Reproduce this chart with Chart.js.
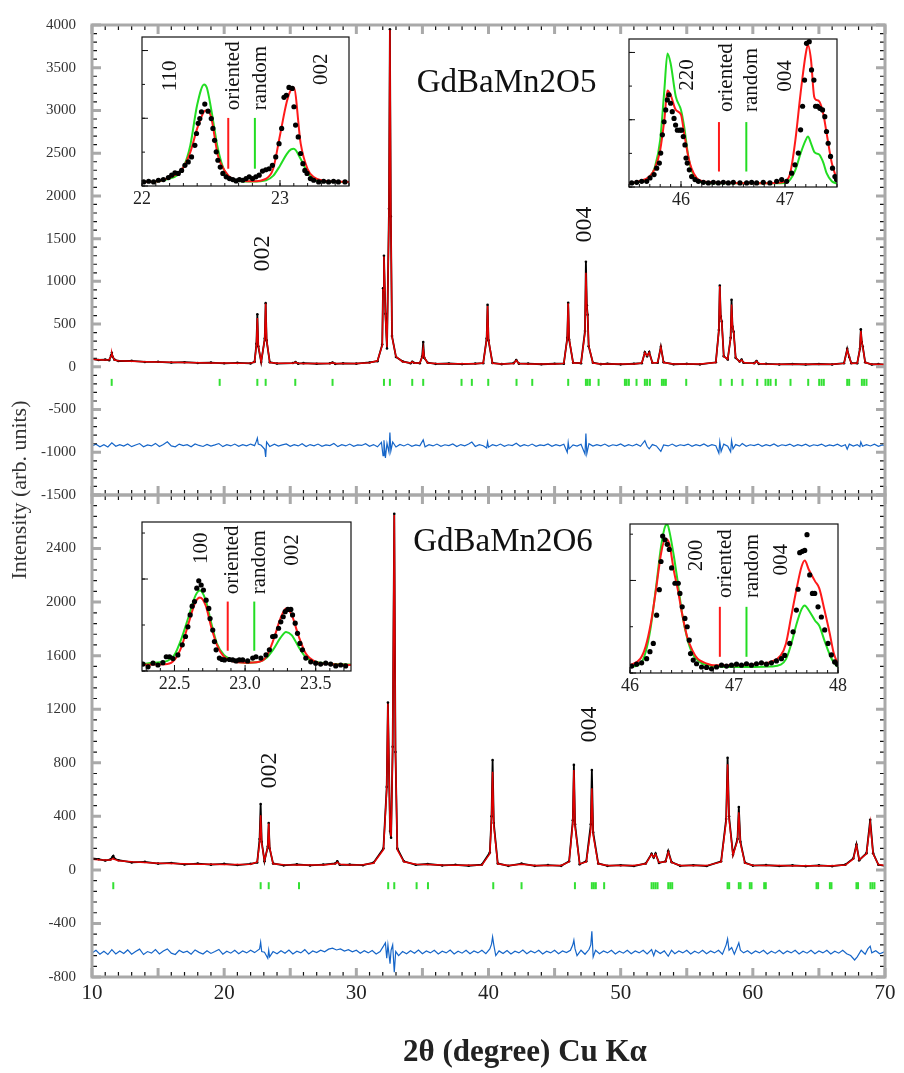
<!DOCTYPE html>
<html>
<head>
<meta charset="utf-8">
<script src="https://cdn.jsdelivr.net/npm/chart.js@4.4.0/dist/chart.umd.min.js"></script>
<style>
  html, body { margin: 0; padding: 0; background: #fff; }
  #wrap { position: relative; width: 904px; height: 1073px; overflow: hidden; }
  canvas { position: absolute; }
</style>
</head>
<body>
<div id="wrap">
  <canvas id="mainTop" width="904" height="1073" style="left:0;top:0"></canvas>
  <canvas id="mainBottom" width="904" height="1073" style="left:0;top:0"></canvas>
  <canvas id="insetTL" width="247" height="189" style="left:122px;top:27px"></canvas>
  <canvas id="insetTR" width="248" height="188" style="left:609px;top:29px"></canvas>
  <canvas id="insetBL" width="249" height="189" style="left:122px;top:512px"></canvas>
  <canvas id="insetBR" width="248" height="189" style="left:610px;top:514px"></canvas>
</div>
<script>
const SERIF = '"Liberation Serif", "DejaVu Serif", serif';
Chart.defaults.font.family = SERIF;

// ---- GdBaMn2O5 (top panel) ----
const o5Tth = [
  10.0, 10.5, 11.0, 11.3, 11.45, 11.5, 11.55, 11.7, 12.0, 13.0,
  14.0, 15.0, 16.0, 17.0, 18.0, 19.0, 20.0, 21.0, 22.0, 22.3,
  22.44, 22.51, 22.58, 22.8, 23.07, 23.14, 23.21, 23.45, 24.0, 25.2,
  25.4, 25.6, 26.0, 27.0, 28.0, 28.2, 28.4, 29.0, 30.0, 31.0,
  31.6, 31.96, 32.02, 32.09, 32.2, 32.32, 32.47, 32.54, 32.61, 32.7,
  33.0, 33.5, 34.1, 34.23, 34.35, 34.8, 34.98, 35.06, 35.14, 35.4,
  36.0, 37.0, 38.0, 39.0, 39.6, 39.86, 39.93, 40.0, 40.3, 41.0,
  41.9, 42.1, 42.3, 43.0, 44.0, 45.0, 45.7, 45.96, 46.03, 46.1,
  46.4, 47.0, 47.3, 47.37, 47.44, 47.5, 47.58, 47.9, 48.5, 49.0,
  50.0, 51.0, 51.6, 51.83, 52.0, 52.16, 52.4, 52.8, 53.04, 53.25,
  54.0, 55.0, 56.0, 57.2, 57.43, 57.5, 57.57, 57.65, 57.8, 58.1,
  58.32, 58.39, 58.46, 58.55, 58.7, 59.0, 59.15, 59.3, 60.1, 60.28,
  60.45, 61.0, 62.0, 63.0, 64.0, 65.0, 66.0, 66.9, 67.14, 67.29,
  67.45, 67.9, 68.1, 68.17, 68.24, 68.32, 68.5, 69.0, 69.5, 70.0
];
const o5Calc = [
  88, 84, 80, 82, 130, 160, 130, 80, 72, 66,
  60, 56, 53, 50, 48, 46, 44, 43, 44, 55,
  250, 570, 250, 60, 320, 740, 320, 50, 42, 41,
  52, 41, 40, 39, 38, 48, 38, 38, 40, 48,
  70, 250, 900, 1290, 600, 230, 1800, 3940, 1800, 350,
  120, 60, 45, 58, 45, 45, 110, 215, 110, 45,
  38, 36, 35, 35, 45, 320, 710, 320, 42, 34,
  40, 75, 40, 34, 33, 33, 40, 330, 745, 330,
  45, 45, 400, 1100, 700, 600, 250, 45, 34, 33,
  32, 33, 45, 165, 130, 165, 45, 50, 230, 50,
  33, 32, 32, 50, 420, 945, 600, 520, 120, 90,
  330, 730, 480, 400, 110, 60, 80, 50, 40, 65,
  38, 32, 31, 30, 30, 30, 30, 40, 200, 120,
  40, 45, 200, 420, 300, 230, 50, 30, 29, 28
];
const o5Obs = [
  92, 80, 84, 78, 135, 165, 120, 84, 68, 70,
  57, 59, 50, 54, 45, 49, 41, 46, 40, 58,
  270, 615, 240, 56, 330, 745, 310, 54, 38, 44,
  55, 37, 43, 36, 41, 50, 35, 41, 37, 51,
  66, 260, 920, 1300, 620, 215, 1850, 3950, 1760, 360,
  115, 64, 42, 60, 48, 42, 120, 290, 105, 48,
  35, 39, 32, 38, 42, 330, 725, 310, 45, 31,
  43, 78, 37, 37, 30, 36, 37, 340, 750, 320,
  48, 42, 420, 1230, 720, 610, 240, 48, 31, 36,
  29, 36, 42, 170, 125, 172, 48, 47, 235, 53,
  30, 35, 29, 53, 430, 950, 590, 530, 125, 87,
  340, 785, 470, 410, 105, 63, 84, 47, 43, 68,
  35, 35, 28, 33, 27, 33, 28, 43, 210, 115,
  43, 42, 210, 440, 290, 235, 53, 27, 32, 26
];
const o5Diff = [
  [10.0,-925],[10.3,-905],[10.6,-935],[10.9,-912],[11.2,-938],[11.5,-890],[11.8,-930],[12.1,-910],[12.4,-928],[12.7,-902],
  [13.0,-934],[13.3,-915],[13.6,-898],[13.9,-936],[14.2,-914],[14.5,-926],[14.8,-896],[15.1,-932],[15.4,-910],[15.7,-878],
  [16.0,-926],[16.3,-936],[16.6,-904],[16.9,-922],[17.2,-912],[17.5,-936],[17.8,-902],[18.1,-920],[18.4,-932],[18.7,-908],
  [19.0,-928],[19.3,-914],[19.6,-898],[19.9,-934],[20.2,-912],[20.5,-926],[20.8,-904],[21.1,-930],[21.4,-910],[21.7,-924],
  [22.0,-904],[22.3,-922],[22.44,-870],[22.51,-835],[22.58,-905],[22.8,-918],[23.07,-965],[23.14,-1055],[23.21,-880],[23.45,-932],
  [23.8,-906],[24.1,-928],[24.4,-914],[24.7,-902],[25.0,-930],[25.3,-912],[25.6,-926],[25.9,-900],[26.2,-932],[26.5,-910],
  [26.8,-924],[27.1,-904],[27.4,-930],[27.7,-914],[28.0,-922],[28.3,-898],[28.6,-934],[28.9,-912],[29.2,-926],[29.5,-904],
  [29.8,-930],[30.1,-914],[30.4,-920],[30.7,-900],[31.0,-930],[31.3,-910],[31.6,-936],[31.9,-885],[32.02,-1040],[32.09,-860],
  [32.2,-1065],[32.32,-895],[32.47,-1000],[32.54,-770],[32.61,-985],[32.75,-880],[33.0,-938],[33.3,-908],[33.6,-926],[33.9,-904],
  [34.2,-930],[34.5,-914],[34.8,-924],[35.06,-855],[35.2,-936],[35.5,-912],[35.8,-926],[36.1,-904],[36.4,-930],[36.7,-912],
  [37.0,-922],[37.3,-902],[37.6,-932],[37.9,-910],[38.2,-924],[38.5,-904],[38.74,-880],[39.0,-932],[39.3,-912],[39.6,-924],
  [39.86,-950],[39.93,-880],[40.0,-940],[40.3,-912],[40.6,-926],[40.9,-904],[41.2,-930],[41.5,-912],[41.8,-922],[42.1,-895],
  [42.4,-930],[42.7,-910],[43.0,-926],[43.3,-904],[43.6,-930],[43.9,-914],[44.2,-922],[44.5,-902],[44.8,-930],[45.1,-912],
  [45.4,-924],[45.7,-906],[45.96,-1000],[46.03,-885],[46.1,-960],[46.4,-914],[46.7,-928],[47.0,-906],[47.3,-1020],[47.37,-780],
  [47.44,-1015],[47.6,-900],[47.9,-928],[48.2,-910],[48.5,-924],[48.8,-904],[49.1,-930],[49.4,-912],[49.7,-922],[50.0,-902],
  [50.3,-930],[50.6,-910],[50.9,-926],[51.2,-906],[51.5,-930],[51.83,-865],[52.0,-930],[52.16,-960],[52.4,-910],[52.7,-926],
  [53.04,-990],[53.25,-915],[53.6,-926],[53.9,-904],[54.2,-930],[54.5,-912],[54.8,-922],[55.1,-904],[55.4,-930],[55.7,-912],
  [56.0,-924],[56.3,-902],[56.6,-930],[56.9,-912],[57.2,-924],[57.43,-1010],[57.5,-880],[57.6,-990],[57.8,-905],[58.1,-930],
  [58.32,-995],[58.39,-865],[58.5,-960],[58.7,-910],[59.0,-928],[59.2,-898],[59.5,-930],[59.8,-912],[60.1,-922],[60.4,-904],
  [60.7,-930],[61.0,-912],[61.3,-924],[61.6,-902],[61.9,-930],[62.2,-912],[62.5,-922],[62.8,-904],[63.1,-930],[63.4,-912],
  [63.7,-924],[64.0,-906],[64.3,-930],[64.6,-912],[64.9,-922],[65.2,-904],[65.5,-930],[65.8,-914],[66.1,-924],[66.4,-906],
  [66.7,-930],[67.0,-912],[67.14,-965],[67.3,-905],[67.6,-928],[67.9,-910],[68.1,-935],[68.17,-880],[68.3,-930],[68.6,-910],
  [68.9,-926],[69.2,-906],[69.5,-930],[69.8,-914],[70.0,-922]
];
const o5Refl = [
  11.49, 19.66, 22.51, 23.14, 25.38, 28.2, 32.09, 32.54, 34.23, 35.06,
  37.96, 38.74, 39.98, 42.12, 43.31, 46.03, 47.37, 47.5, 47.67, 48.33,
  50.32, 50.45, 50.62, 51.2, 51.83, 52.0, 52.21, 53.12, 53.27, 53.42,
  54.96, 57.56, 58.41, 59.22, 60.33, 60.96, 61.16, 61.34, 61.74, 62.85,
  64.19, 65.02, 65.2, 65.37, 67.14, 67.29, 68.25, 68.42, 68.6, 70.0
];
const o5ReflLevel = -182;
const o5YLabels = [-1500, -1000, -500, 0, 500, 1000, 1500, 2000, 2500, 3000, 3500, 4000];

// ---- GdBaMn2O6 (bottom panel) ----
const o6Tth = [
  10.0, 10.5, 11.0, 11.4, 11.55, 11.61, 11.7, 12.0, 13.0, 14.0,
  15.0, 16.0, 17.0, 18.0, 19.0, 20.0, 21.0, 22.0, 22.5, 22.68,
  22.76, 22.84, 23.05, 23.3, 23.37, 23.44, 23.7, 24.5, 25.5, 26.5,
  27.5, 28.4, 28.56, 28.75, 29.5, 30.5, 31.3, 32.05, 32.3, 32.39,
  32.55, 32.63, 32.75, 32.87, 32.96, 33.1, 33.6, 34.5, 35.4, 36.5,
  37.5, 38.5, 39.5, 40.1, 40.23, 40.31, 40.4, 40.7, 41.5, 42.5,
  43.5, 44.5, 45.5, 46.1, 46.38, 46.46, 46.55, 46.9, 47.4, 47.74,
  47.82, 47.92, 48.3, 49.0, 50.0, 51.0, 51.9, 52.34, 52.5, 52.64,
  52.9, 53.4, 53.6, 53.85, 54.5, 55.5, 56.5, 57.6, 57.98, 58.09,
  58.2, 58.5, 58.84, 58.94, 59.06, 59.4, 60.0, 61.0, 62.0, 63.0,
  64.0, 65.0, 66.0, 67.0, 67.6, 67.84, 68.05, 68.6, 68.88, 69.1,
  69.5, 70.0
];
const o6Calc = [
  80, 76, 74, 74, 82, 85, 78, 68, 60, 55,
  50, 47, 45, 43, 42, 41, 40, 42, 60, 200,
  407, 200, 70, 170, 346, 170, 45, 38, 37, 36,
  36, 45, 58, 42, 36, 38, 50, 150, 600, 1240,
  300, 250, 900, 2650, 900, 150, 60, 42, 40, 36,
  35, 34, 36, 120, 380, 733, 330, 45, 33, 42,
  33, 32, 33, 60, 350, 746, 320, 45, 60, 300,
  610, 260, 45, 33, 32, 32, 45, 116, 95, 116,
  55, 60, 133, 55, 33, 32, 32, 60, 360, 788,
  380, 110, 220, 430, 200, 50, 35, 33, 32, 31,
  31, 31, 31, 36, 80, 183, 75, 120, 351, 120,
  40, 32
];
const o6Obs = [
  86, 80, 70, 78, 96, 104, 84, 72, 56, 60,
  47, 52, 41, 47, 39, 45, 36, 45, 55, 230,
  492, 210, 65, 175, 350, 160, 48, 34, 41, 33,
  40, 48, 64, 38, 39, 35, 54, 160, 620, 1250,
  290, 240, 920, 2660, 880, 160, 64, 38, 44, 33,
  38, 31, 40, 130, 400, 820, 350, 48, 30, 47,
  30, 36, 30, 64, 370, 784, 340, 42, 65, 340,
  746, 280, 48, 30, 35, 29, 48, 120, 92, 122,
  52, 64, 140, 58, 30, 35, 29, 64, 380, 837,
  400, 115, 230, 470, 210, 54, 32, 36, 29, 34,
  28, 34, 28, 39, 85, 190, 72, 125, 375, 125,
  38, 30
];
const o6Diff = [
  [10.0,-620],[10.3,-600],[10.6,-630],[10.9,-608],[11.2,-632],[11.5,-596],[11.8,-628],[12.1,-606],[12.4,-624],[12.7,-598],
  [13.0,-630],[13.3,-610],[13.6,-592],[13.9,-632],[14.2,-610],[14.5,-622],[14.8,-595],[15.1,-628],[15.4,-606],[15.7,-590],
  [16.0,-622],[16.3,-632],[16.6,-600],[16.9,-618],[17.2,-608],[17.5,-630],[17.8,-598],[18.1,-616],[18.4,-628],[18.7,-604],
  [19.0,-624],[19.3,-610],[19.6,-594],[19.9,-630],[20.2,-608],[20.5,-622],[20.8,-600],[21.1,-626],[21.4,-606],[21.7,-620],
  [22.0,-600],[22.3,-618],[22.68,-590],[22.76,-540],[22.84,-610],[23.05,-615],[23.3,-660],[23.37,-600],[23.44,-650],[23.7,-610],
  [24.0,-626],[24.3,-604],[24.6,-622],[24.9,-598],[25.2,-628],[25.5,-608],[25.8,-620],[26.1,-596],[26.4,-628],[26.7,-606],
  [27.0,-618],[27.3,-600],[27.6,-612],[27.9,-592],[28.2,-585],[28.5,-598],[28.8,-590],[29.1,-606],[29.4,-596],[29.7,-612],
  [30.0,-600],[30.3,-622],[30.6,-604],[30.9,-620],[31.2,-602],[31.5,-628],[31.8,-610],[32.2,-545],[32.3,-660],[32.39,-560],
  [32.55,-700],[32.63,-600],[32.75,-560],[32.87,-765],[32.98,-610],[33.2,-640],[33.5,-610],[33.8,-626],[34.1,-604],[34.4,-622],
  [34.7,-598],[35.0,-626],[35.3,-606],[35.6,-620],[35.9,-600],[36.2,-628],[36.5,-608],[36.8,-620],[37.1,-598],[37.4,-628],
  [37.7,-608],[38.0,-622],[38.3,-600],[38.6,-626],[38.9,-606],[39.2,-620],[39.5,-600],[39.8,-626],[40.1,-590],[40.23,-555],
  [40.31,-500],[40.4,-560],[40.55,-640],[40.8,-605],[41.1,-624],[41.4,-602],[41.7,-628],[42.0,-608],[42.3,-620],[42.6,-598],
  [42.9,-626],[43.2,-606],[43.5,-620],[43.8,-600],[44.1,-628],[44.4,-608],[44.7,-620],[45.0,-600],[45.3,-626],[45.6,-606],
  [45.9,-618],[46.2,-600],[46.38,-560],[46.46,-525],[46.55,-590],[46.7,-640],[47.0,-600],[47.3,-630],[47.6,-595],[47.74,-560],
  [47.82,-459],[47.92,-650],[48.1,-600],[48.4,-626],[48.7,-606],[49.0,-620],[49.3,-600],[49.6,-628],[49.9,-608],[50.2,-622],
  [50.5,-600],[50.8,-626],[51.1,-606],[51.4,-620],[51.7,-600],[52.0,-628],[52.34,-595],[52.5,-640],[52.64,-600],[53.0,-625],
  [53.3,-605],[53.6,-645],[53.85,-600],[54.1,-626],[54.4,-606],[54.7,-620],[55.0,-600],[55.3,-628],[55.6,-608],[55.9,-622],
  [56.2,-600],[56.5,-626],[56.8,-606],[57.1,-620],[57.4,-600],[57.7,-630],[57.98,-560],[58.09,-515],[58.2,-600],[58.4,-580],
  [58.6,-630],[58.84,-570],[58.94,-545],[59.06,-600],[59.3,-620],[59.6,-604],[59.9,-626],[60.2,-606],[60.5,-620],[60.8,-600],
  [61.1,-628],[61.4,-608],[61.7,-622],[62.0,-600],[62.3,-626],[62.6,-606],[62.9,-620],[63.2,-600],[63.5,-628],[63.8,-608],
  [64.1,-622],[64.4,-600],[64.7,-626],[65.0,-606],[65.3,-620],[65.6,-600],[65.9,-628],[66.2,-608],[66.5,-622],[66.8,-600],
  [67.1,-626],[67.4,-640],[67.7,-673],[67.9,-650],[68.2,-600],[68.5,-630],[68.7,-590],[68.88,-570],[69.0,-620],[69.3,-604],
  [69.6,-626],[70.0,-610]
];
const o6Refl = [
  11.61, 22.76, 23.37, 25.66, 32.41, 32.87, 34.56, 35.42, 40.36, 42.5,
  46.54, 47.82, 47.97, 48.12, 48.75, 52.34, 52.49, 52.64, 52.79, 53.6,
  53.75, 53.9, 58.09, 58.21, 58.94, 59.07, 59.77, 59.9, 60.86, 60.98,
  64.82, 64.94, 65.83, 65.95, 67.84, 67.96, 68.9, 69.05, 69.2
];
const o6ReflLevel = -118;
const o6YLabels = [-800, -400, 0, 400, 800, 1200, 1600, 2000, 2400];
const mainXLabels = [10, 20, 30, 40, 50, 60, 70];

// ---- insets: calc (oriented), random, observed ----
const tlTth  = [22.0, 22.1, 22.2, 22.25, 22.3, 22.35, 22.4, 22.45, 22.47, 22.5, 22.55, 22.6, 22.65, 22.7, 22.8, 22.9, 22.95, 23.0, 23.05, 23.08, 23.1, 23.15, 23.2, 23.25, 23.3, 23.4, 23.5];
const tlCalc = [0.12, 0.13, 0.25, 0.35, 0.55, 1.0, 1.7, 2.2, 2.24, 2.05, 0.9, 0.45, 0.22, 0.16, 0.14, 0.22, 0.5, 1.5, 2.5, 2.85, 2.91, 1.25, 0.5, 0.25, 0.17, 0.13, 0.12];
const tlRand = [0.12, 0.13, 0.22, 0.3, 0.55, 1.2, 2.4, 3.0, 2.9, 2.3, 1.1, 0.42, 0.2, 0.15, 0.13, 0.17, 0.3, 0.6, 0.95, 1.08, 1.1, 0.8, 0.4, 0.2, 0.14, 0.12, 0.12];
const tlObs = [
  [22.012,0.12],[22.048,0.14],[22.084,0.12],[22.119,0.17],[22.155,0.19],[22.191,0.25],[22.215,0.32],[22.239,0.39],[22.263,0.37],[22.287,0.46],
  [22.311,0.61],[22.335,0.71],[22.359,0.86],[22.383,1.2],[22.395,1.55],[22.407,1.85],[22.419,1.99],[22.431,2.19],[22.455,2.42],[22.479,2.21],
  [22.502,1.99],[22.514,1.7],[22.526,1.35],[22.538,1.01],[22.55,0.76],[22.567,0.56],[22.586,0.37],[22.61,0.27],[22.634,0.22],[22.658,0.19],
  [22.682,0.15],[22.706,0.19],[22.73,0.17],[22.754,0.22],[22.777,0.27],[22.801,0.22],[22.825,0.27],[22.849,0.32],[22.873,0.44],[22.897,0.48],
  [22.921,0.51],[22.945,0.61],[22.969,0.86],[22.993,1.25],[23.012,1.7],[23.029,2.62],[23.046,2.68],[23.065,2.91],[23.089,2.88],[23.101,2.34],
  [23.113,1.8],[23.132,1.45],[23.149,0.96],[23.166,0.66],[23.18,0.46],[23.196,0.37],[23.22,0.22],[23.244,0.17],[23.28,0.12],[23.316,0.14],
  [23.352,0.12],[23.388,0.14],[23.423,0.12],[23.471,0.12]
];
const tlMarks = [22.625, 22.818];
const tlXLabels = [22, 23];

const trTth  = [45.5, 45.6, 45.7, 45.75, 45.8, 45.84, 45.87, 45.9, 45.95, 46.0, 46.03, 46.07, 46.1, 46.15, 46.2, 46.3, 46.5, 46.7, 46.9, 47.0, 47.05, 47.1, 47.15, 47.2, 47.22, 47.25, 47.28, 47.3, 47.33, 47.37, 47.4, 47.45, 47.5];
const trCalc = [0.1, 0.17, 0.32, 0.56, 1.1, 2.0, 2.87, 2.74, 2.29, 2.15, 1.6, 0.91, 0.56, 0.27, 0.18, 0.14, 0.12, 0.11, 0.12, 0.17, 0.41, 1.4, 2.79, 3.97, 4.22, 3.78, 2.69, 2.59, 2.54, 2.15, 1.6, 0.71, 0.22];
const trRand = [0.1, 0.15, 0.3, 0.6, 1.4, 2.89, 3.97, 3.68, 2.69, 2.29, 1.8, 0.91, 0.5, 0.22, 0.13, 0.11, 0.11, 0.11, 0.11, 0.12, 0.22, 0.51, 1.0, 1.4, 1.5, 1.3, 1.05, 1.0, 0.96, 0.71, 0.41, 0.17, 0.1];
const trObs = [
  [45.526,0.12],[45.574,0.14],[45.622,0.17],[45.67,0.17],[45.702,0.27],[45.741,0.37],[45.766,0.56],[45.792,0.71],[45.805,1.01],[45.821,1.55],
  [45.837,1.94],[45.853,2.29],[45.869,2.59],[45.884,2.74],[45.9,2.49],[45.916,2.24],[45.933,2.04],[45.948,1.84],[45.965,1.69],[45.99,1.69],
  [46.006,1.69],[46.022,1.5],[46.038,1.25],[46.048,0.86],[46.06,0.71],[46.08,0.51],[46.102,0.31],[46.135,0.22],[46.167,0.17],[46.215,0.14],
  [46.263,0.12],[46.311,0.14],[46.359,0.12],[46.407,0.14],[46.455,0.12],[46.503,0.14],[46.567,0.12],[46.631,0.12],[46.679,0.14],[46.727,0.12],
  [46.791,0.14],[46.855,0.12],[46.92,0.17],[46.968,0.22],[47.016,0.17],[47.064,0.41],[47.096,0.66],[47.128,1.01],[47.15,1.7],[47.169,2.4],
  [47.188,3.18],[47.207,4.27],[47.233,4.32],[47.255,3.48],[47.278,3.18],[47.294,2.4],[47.313,2.4],[47.335,2.34],[47.361,2.29],[47.383,2.09],
  [47.399,1.65],[47.415,1.3],[47.438,0.91],[47.457,0.56],[47.48,0.31],[47.496,0.22]
];
const trMarks = [46.365, 46.628];
const trXLabels = [46, 47];

const blTth  = [22.27, 22.35, 22.45, 22.5, 22.55, 22.6, 22.65, 22.68, 22.72, 22.76, 22.8, 22.85, 22.9, 23.0, 23.1, 23.15, 23.2, 23.25, 23.29, 23.33, 23.38, 23.43, 23.5, 23.6, 23.75];
const blCalc = [0.13, 0.14, 0.15, 0.24, 0.53, 1.04, 1.51, 1.6, 1.43, 0.96, 0.57, 0.31, 0.22, 0.18, 0.2, 0.31, 0.67, 1.14, 1.36, 1.22, 0.75, 0.38, 0.2, 0.15, 0.13];
const blRand = [0.15, 0.18, 0.22, 0.35, 0.71, 1.18, 1.65, 1.75, 1.55, 1.05, 0.6, 0.35, 0.25, 0.18, 0.2, 0.28, 0.47, 0.72, 0.85, 0.78, 0.52, 0.3, 0.2, 0.16, 0.14];
const blObs = [
  [22.277,0.15],[22.313,0.09],[22.348,0.17],[22.383,0.13],[22.418,0.18],[22.442,0.31],[22.465,0.31],[22.489,0.27],[22.524,0.35],[22.555,0.57],
  [22.578,0.75],[22.595,0.96],[22.611,1.22],[22.625,1.41],[22.642,1.51],[22.658,1.8],[22.672,1.96],[22.689,1.87],[22.705,1.76],[22.724,1.54],
  [22.743,1.36],[22.752,1.14],[22.771,0.89],[22.783,0.64],[22.795,0.46],[22.818,0.28],[22.837,0.25],[22.854,0.24],[22.889,0.25],[22.912,0.24],
  [22.936,0.22],[22.959,0.24],[22.983,0.24],[23.018,0.22],[23.054,0.28],[23.077,0.31],[23.112,0.28],[23.148,0.35],[23.172,0.46],[23.195,0.75],
  [23.213,0.76],[23.237,0.93],[23.253,1.07],[23.27,1.18],[23.284,1.29],[23.303,1.34],[23.324,1.34],[23.336,1.22],[23.355,1.04],[23.371,0.82],
  [23.388,0.6],[23.406,0.46],[23.43,0.28],[23.465,0.2],[23.5,0.17],[23.535,0.15],[23.571,0.17],[23.606,0.15],[23.642,0.11],[23.677,0.13],
  [23.712,0.11]
];
const blMarks = [22.877, 23.065];
const blXLabels = [22.5, 23.0, 23.5];

const brTth  = [46.0, 46.1, 46.15, 46.2, 46.25, 46.3, 46.34, 46.36, 46.38, 46.42, 46.46, 46.5, 46.55, 46.6, 46.65, 46.7, 46.8, 47.0, 47.2, 47.35, 47.45, 47.5, 47.55, 47.6, 47.65, 47.68, 47.72, 47.78, 47.82, 47.87, 47.92, 47.96, 48.0];
const brCalc = [0.17, 0.31, 0.57, 1.07, 1.8, 2.6, 2.9, 2.88, 2.78, 2.23, 1.8, 1.29, 0.78, 0.49, 0.31, 0.24, 0.17, 0.17, 0.19, 0.24, 0.38, 0.64, 1.22, 1.8, 2.3, 2.43, 2.23, 1.98, 1.83, 1.36, 0.86, 0.42, 0.2];
const brRand = [0.13, 0.2, 0.45, 1.0, 1.85, 2.75, 3.18, 3.21, 3.05, 2.55, 1.95, 1.3, 0.75, 0.42, 0.28, 0.2, 0.15, 0.13, 0.13, 0.14, 0.18, 0.3, 0.62, 1.05, 1.38, 1.46, 1.35, 1.13, 1.02, 0.7, 0.4, 0.22, 0.13];
const brObs = [
  [46.016,0.15],[46.064,0.19],[46.112,0.22],[46.16,0.31],[46.192,0.46],[46.224,0.64],[46.256,1.25],[46.282,1.8],[46.298,2.41],[46.314,2.96],
  [46.336,2.88],[46.358,2.78],[46.378,2.67],[46.4,2.27],[46.432,1.94],[46.464,1.94],[46.48,1.72],[46.502,1.43],[46.528,1.18],[46.55,1.0],
  [46.57,0.71],[46.582,0.42],[46.608,0.28],[46.64,0.2],[46.688,0.13],[46.736,0.12],[46.784,0.09],[46.832,0.13],[46.88,0.17],[46.928,0.15],
  [46.976,0.17],[47.024,0.19],[47.072,0.17],[47.12,0.2],[47.168,0.17],[47.216,0.2],[47.264,0.22],[47.312,0.19],[47.36,0.22],[47.408,0.26],
  [47.456,0.31],[47.488,0.38],[47.536,0.64],[47.568,0.89],[47.6,1.36],[47.616,1.81],[47.632,2.6],[47.658,2.63],[47.68,2.65],[47.702,2.99],
  [47.728,2.12],[47.754,1.72],[47.776,1.72],[47.808,1.43],[47.84,1.21],[47.872,0.93],[47.904,0.64],[47.936,0.39],[47.968,0.24],[47.994,0.19]
];
const brMarks = [46.864, 47.12];
const brXLabels = [46, 47, 48];

// ---- frame, inward ticks and text, all placed through the chart scales ----
const framePlugin = {
  id: 'frame',
  beforeDatasetsDraw(chart, args, o) {
    if (!o.background) return;
    const a = chart.chartArea, ctx = chart.ctx;
    ctx.save();
    ctx.fillStyle = o.background;
    ctx.fillRect(a.left, a.top, a.right - a.left, a.bottom - a.top);
    ctx.restore();
  },
  afterDraw(chart, args, o) {
    if (!o.frameColor) return;
    const ctx = chart.ctx, a = chart.chartArea;
    const sx = chart.scales.x, sy = chart.scales.y;
    ctx.save();
    const marks = (scale, step, sides, len, color, width) => {
      const n0 = Math.ceil(scale.min / step - 1e-6), n1 = Math.floor(scale.max / step + 1e-6);
      ctx.strokeStyle = color;
      ctx.lineWidth = width;
      ctx.beginPath();
      for (let n = n0; n <= n1; n++) {
        const p = scale.getPixelForValue(n * step);
        sides.forEach(side => {
          if (side === 'bottom') { ctx.moveTo(p, a.bottom); ctx.lineTo(p, a.bottom - len); }
          if (side === 'top') { ctx.moveTo(p, a.top); ctx.lineTo(p, a.top + len); }
          if (side === 'left') { ctx.moveTo(a.left, p); ctx.lineTo(a.left + len, p); }
          if (side === 'right') { ctx.moveTo(a.right, p); ctx.lineTo(a.right - len, p); }
        });
      }
      ctx.stroke();
    };
    marks(sx, o.xMinor, o.xSides, o.minorLen, o.minorColor, o.minorWidth);
    marks(sy, o.yMinor, o.ySides, o.minorLen, o.minorColor, o.minorWidth);
    marks(sx, o.xMajor, o.xSides, o.majorLen, o.majorColor, o.majorWidth);
    marks(sy, o.yMajor, o.ySides, o.majorLen, o.majorColor, o.majorWidth);
    ctx.strokeStyle = o.frameColor;
    ctx.lineWidth = o.frameWidth;
    ctx.strokeRect(a.left, a.top, a.right - a.left, a.bottom - a.top);

    const write = (t, px, py, rot, size, align, weight, color) => {
      ctx.save();
      ctx.translate(px, py);
      if (rot) ctx.rotate(-Math.PI / 2);
      ctx.font = (weight || 'normal') + ' ' + size + 'px ' + SERIF;
      ctx.fillStyle = color || '#111';
      ctx.textAlign = align || 'center';
      ctx.textBaseline = 'middle';
      ctx.fillText(t, 0, 0);
      ctx.restore();
    };
    (o.notes || []).forEach(n => write(n.t, sx.getPixelForValue(n.x), sy.getPixelForValue(n.y), n.rot, n.size, n.align, n.weight));
    (o.titles || []).forEach(n => write(n.t, n.px, n.py, n.rot, n.size, n.align, n.weight, n.color));
    ctx.restore();
  }
};
Chart.register(framePlugin);

const toXY = (xs, ys) => xs.map((x, i) => ({ x: x, y: ys[i] }));
const pairs = list => list.map(p => ({ x: p[0], y: p[1] }));

function mainChart(id, cfg) {
  return new Chart(document.getElementById(id), {
    type: 'scatter',
    data: {
      datasets: [
        { label: 'calc', data: toXY(cfg.tth, cfg.calc), showLine: true, borderColor: '#e30000',
          borderWidth: 1.5, pointRadius: 0, order: 0 },
        { label: 'obs', data: toXY(cfg.tth, cfg.obs), showLine: true, borderColor: '#000',
          borderWidth: 1.8, pointRadius: 1.3, pointBackgroundColor: '#000', pointBorderWidth: 0, order: 1 },
        { label: 'diff', data: pairs(cfg.diff), showLine: true, borderColor: '#1565c8',
          borderWidth: 1.2, pointRadius: 0, order: 2 },
        { label: 'refl', data: cfg.refl.map(t => ({ x: t, y: cfg.reflLevel })), showLine: false,
          pointStyle: 'line', rotation: 90, pointRadius: 3.5, pointBorderColor: '#33e033',
          borderColor: '#33e033', pointBorderWidth: 2, order: 3 }
      ]
    },
    options: {
      responsive: false,
      animation: false,
      events: [],
      layout: { padding: cfg.padding },
      plugins: {
        legend: { display: false },
        tooltip: { enabled: false },
        frame: {
          frameColor: '#a9a9a9', frameWidth: 3,
          xMinor: 1, xMajor: 5, yMinor: cfg.yMinor, yMajor: cfg.yMajor,
          xSides: ['top', 'bottom'], ySides: ['left', 'right'],
          minorLen: 5, minorColor: '#111', minorWidth: 1.2,
          majorLen: 9, majorColor: '#a9a9a9', majorWidth: 3,
          notes: cfg.notes, titles: cfg.titles
        }
      },
      scales: {
        x: {
          type: 'linear', min: 10, max: 70, display: cfg.showX,
          grid: { display: false, drawTicks: false }, border: { display: false },
          afterBuildTicks: s => { s.ticks = mainXLabels.map(v => ({ value: v })); },
          afterFit: s => { s.height = cfg.showX ? 96 : 0; },
          ticks: { autoSkip: false, maxRotation: 0, padding: 4, color: '#222',
                   font: { family: SERIF, size: 21 }, callback: v => String(v) }
        },
        y: {
          type: 'linear', min: cfg.yMin, max: cfg.yMax,
          grid: { display: false, drawTicks: false }, border: { display: false },
          afterBuildTicks: s => { s.ticks = cfg.yLabels.map(v => ({ value: v })); },
          afterFit: s => { s.width = 92; },
          ticks: { autoSkip: false, padding: 16, color: '#333',
                   font: { family: SERIF, size: 15 }, callback: v => String(v) }
        }
      }
    }
  });
}

function insetChart(id, cfg) {
  const mark = (x, color) => ({ data: [{ x: x, y: cfg.markLow }, { x: x, y: cfg.markHigh }], showLine: true,
    borderColor: color, borderWidth: 2, pointRadius: 0, order: 3 });
  return new Chart(document.getElementById(id), {
    type: 'scatter',
    data: {
      datasets: [
        { label: 'obs', data: pairs(cfg.obs), showLine: false, pointRadius: 2.6,
          pointBackgroundColor: '#000', pointBorderWidth: 0, order: 0 },
        { label: 'oriented', data: toXY(cfg.tth, cfg.calc), showLine: true, borderColor: '#ff1a1a',
          borderWidth: 2, pointRadius: 0, cubicInterpolationMode: 'monotone', order: 1 },
        { label: 'random', data: toXY(cfg.tth, cfg.rand), showLine: true, borderColor: '#22dd22',
          borderWidth: 2, pointRadius: 0, cubicInterpolationMode: 'monotone', order: 2 },
        mark(cfg.marks[0], '#ff1a1a'),
        mark(cfg.marks[1], '#22dd22')
      ]
    },
    options: {
      responsive: false,
      animation: false,
      events: [],
      layout: { padding: { left: 20, right: cfg.padRight, top: 10, bottom: 0 } },
      plugins: {
        legend: { display: false },
        tooltip: { enabled: false },
        frame: {
          background: '#fff', frameColor: '#111', frameWidth: 1.2,
          xMinor: 0.1, xMajor: cfg.xMajor, yMinor: 1, yMajor: 2,
          xSides: ['bottom'], ySides: ['left'],
          minorLen: 3, minorColor: '#111', minorWidth: 1,
          majorLen: 6, majorColor: '#111', majorWidth: 1,
          notes: cfg.notes
        }
      },
      scales: {
        x: {
          type: 'linear', min: cfg.xMin, max: cfg.xMax,
          grid: { display: false, drawTicks: false }, border: { display: false },
          afterBuildTicks: s => { s.ticks = cfg.xLabels.map(v => ({ value: v })); },
          afterFit: s => { s.height = cfg.axisHeight; },
          ticks: { autoSkip: false, maxRotation: 0, padding: 2, color: '#222',
                   font: { family: SERIF, size: 18 }, callback: cfg.fmt }
        },
        y: { type: 'linear', min: 0, max: cfg.yMax, display: false }
      }
    }
  });
}

mainChart('mainTop', {
  tth: o5Tth, calc: o5Calc, obs: o5Obs, diff: o5Diff, refl: o5Refl, reflLevel: o5ReflLevel,
  yMin: -1500, yMax: 4000, yMinor: 100, yMajor: 500, yLabels: o5YLabels, showX: false,
  padding: { top: 12, right: 19, bottom: 578, left: 0 },
  notes: [
    { t: 'GdBaMn2O5', x: 34.57, y: 3318, size: 33, align: 'left' },
    { t: '002', x: 22.94, y: 1325, rot: true, size: 24 },
    { t: '004', x: 47.29, y: 1665, rot: true, size: 24 }
  ]
});

mainChart('mainBottom', {
  tth: o6Tth, calc: o6Calc, obs: o6Obs, diff: o6Diff, refl: o6Refl, reflLevel: o6ReflLevel,
  yMin: -800, yMax: 2800, yMinor: 80, yMajor: 400, yLabels: o6YLabels, showX: true,
  padding: { top: 495, right: 19, bottom: 0, left: 0 },
  notes: [
    { t: 'GdBaMn2O6', x: 34.3, y: 2444, size: 33, align: 'left' },
    { t: '002', x: 23.46, y: 743, rot: true, size: 24 },
    { t: '004', x: 47.67, y: 1086, rot: true, size: 24 }
  ],
  titles: [
    { t: 'Intensity (arb. units)', px: 20, py: 490, rot: true, size: 22, color: '#333' },
    { t: '2\u03b8 (degree) Cu K\u03b1', px: 525, py: 1053, size: 31, weight: 'bold', color: '#222' }
  ]
});

insetChart('insetTL', {
  tth: tlTth, calc: tlCalc, rand: tlRand, obs: tlObs, marks: tlMarks, markLow: 0.51, markHigh: 2.01,
  xMin: 22, xMax: 23.5, yMax: 4.4, xMajor: 1, xLabels: tlXLabels, fmt: v => String(v),
  padRight: 20, axisHeight: 30,
  notes: [
    { t: '110', x: 22.203, y: 3.25, rot: true, size: 21 },
    { t: 'oriented', x: 22.665, y: 2.24, rot: true, size: 21, align: 'left' },
    { t: 'random', x: 22.861, y: 2.24, rot: true, size: 21, align: 'left' },
    { t: '002', x: 23.302, y: 3.45, rot: true, size: 21 }
  ]
});

insetChart('insetTR', {
  tth: trTth, calc: trCalc, rand: trRand, obs: trObs, marks: trMarks, markLow: 0.46, markHigh: 1.93,
  xMin: 45.5, xMax: 47.5, yMax: 4.4, xMajor: 1, xLabels: trXLabels, fmt: v => String(v),
  padRight: 20, axisHeight: 30,
  notes: [
    { t: '220', x: 46.065, y: 3.33, rot: true, size: 21 },
    { t: 'oriented', x: 46.433, y: 2.23, rot: true, size: 21, align: 'left' },
    { t: 'random', x: 46.68, y: 2.23, rot: true, size: 21, align: 'left' },
    { t: '004', x: 47.0, y: 3.3, rot: true, size: 21 }
  ]
});

insetChart('insetBL', {
  tth: blTth, calc: blCalc, rand: blRand, obs: blObs, marks: blMarks, markLow: 0.44, markHigh: 1.51,
  xMin: 22.27, xMax: 23.75, yMax: 3.24, xMajor: 0.5, xLabels: blXLabels, fmt: v => v.toFixed(1),
  padRight: 20, axisHeight: 30,
  notes: [
    { t: '100', x: 22.689, y: 2.67, rot: true, size: 21 },
    { t: 'oriented', x: 22.912, y: 1.67, rot: true, size: 21, align: 'left' },
    { t: 'random', x: 23.1, y: 1.67, rot: true, size: 21, align: 'left' },
    { t: '002', x: 23.336, y: 2.63, rot: true, size: 21 }
  ]
});

insetChart('insetBR', {
  tth: brTth, calc: brCalc, rand: brRand, obs: brObs, marks: brMarks, markLow: 0.35, markHigh: 1.43,
  xMin: 46, xMax: 48, yMax: 3.22, xMajor: 1, xLabels: brXLabels, fmt: v => String(v),
  padRight: 20, axisHeight: 30,
  notes: [
    { t: '200', x: 46.64, y: 2.54, rot: true, size: 21 },
    { t: 'oriented', x: 46.922, y: 1.62, rot: true, size: 21, align: 'left' },
    { t: 'random', x: 47.174, y: 1.62, rot: true, size: 21, align: 'left' },
    { t: '004', x: 47.457, y: 2.45, rot: true, size: 21 }
  ]
});
</script>
</body>
</html>
